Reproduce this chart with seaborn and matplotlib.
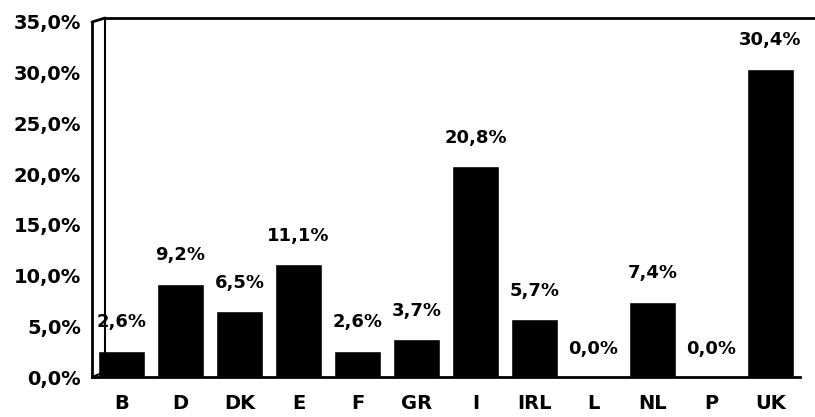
import seaborn as sns
import numpy as np
import pandas as pd
import matplotlib.pyplot as plt
from matplotlib.lines import Line2D
from matplotlib.ticker import FuncFormatter, FixedLocator

countries = ["B", "D", "DK", "E", "F", "GR", "I", "IRL", "L", "NL", "P", "UK"]
shares = [2.6, 9.2, 6.5, 11.1, 2.6, 3.7, 20.8, 5.7, 0.0, 7.4, 0.0, 30.4]
y_ticks = [0, 5, 10, 15, 20, 25, 30, 35]

df = pd.DataFrame({"country": countries, "share": shares})

sns.set_style("white")
plt.rcParams["font.family"] = ["DejaVu Sans"]
plt.rcParams["font.weight"] = "bold"
plt.rcParams["text.color"] = "black"
plt.rcParams["xtick.color"] = "black"
plt.rcParams["ytick.color"] = "black"

fig = plt.figure(figsize=(8.15, 4.17), dpi=100)
ax = fig.add_axes([92 / 815, 1 - 377 / 417, 708 / 815, 355 / 417])

sns.barplot(data=df, x="country", y="share", color="black", saturation=1,
            width=0.8, ax=ax)

def pct(v):
    return ("%.1f%%" % v).replace(".", ",")

for i, v in enumerate(shares):
    ax.annotate(pct(v), (i, v), xytext=(0, 14), textcoords="offset points",
                ha="center", va="bottom", fontsize=13, fontweight="bold",
                color="black")

ax.set_ylim(0, 35)
ax.set_xlim(-0.5, len(countries) - 0.5)
ax.yaxis.set_major_locator(FixedLocator(y_ticks))
ax.yaxis.set_major_formatter(FuncFormatter(lambda v, p: pct(v)))
ax.xaxis.set_minor_locator(FixedLocator(np.arange(-0.5, len(countries), 1.0)))
ax.tick_params(axis="x", which="major", length=0, pad=12, labelsize=14,
               labelcolor="black")
ax.tick_params(axis="x", which="minor", length=6, width=1.5, direction="out", color="black")
ax.tick_params(axis="y", length=6, width=1.5, direction="out", color="black",
               labelsize=14, pad=2, labelcolor="black")
for lab in ax.get_xticklabels() + ax.get_yticklabels():
    lab.set_fontweight("bold")
ax.set_xlabel("")
ax.set_ylabel("")

for side in ["top", "right"]:
    ax.spines[side].set_visible(False)
for side in ["left", "bottom"]:
    ax.spines[side].set_color("black")
    ax.spines[side].set_linewidth(2)

# back wall of the 3D frame, in pixel-based figure coordinates
W, H = 815.0, 417.0
def fig_line(xs, ys, lw=2):
    fig.add_artist(Line2D([x / W for x in xs], [1 - y / H for y in ys],
                          color="black", lw=lw, transform=fig.transFigure))

fig_line([92, 105], [22, 18])
fig_line([105, 815], [18, 18])
fig_line([105, 105], [18, 372], lw=1.5)
fig_line([92, 105], [377, 372], lw=1.5)

fig.savefig("out.png", dpi=100)
